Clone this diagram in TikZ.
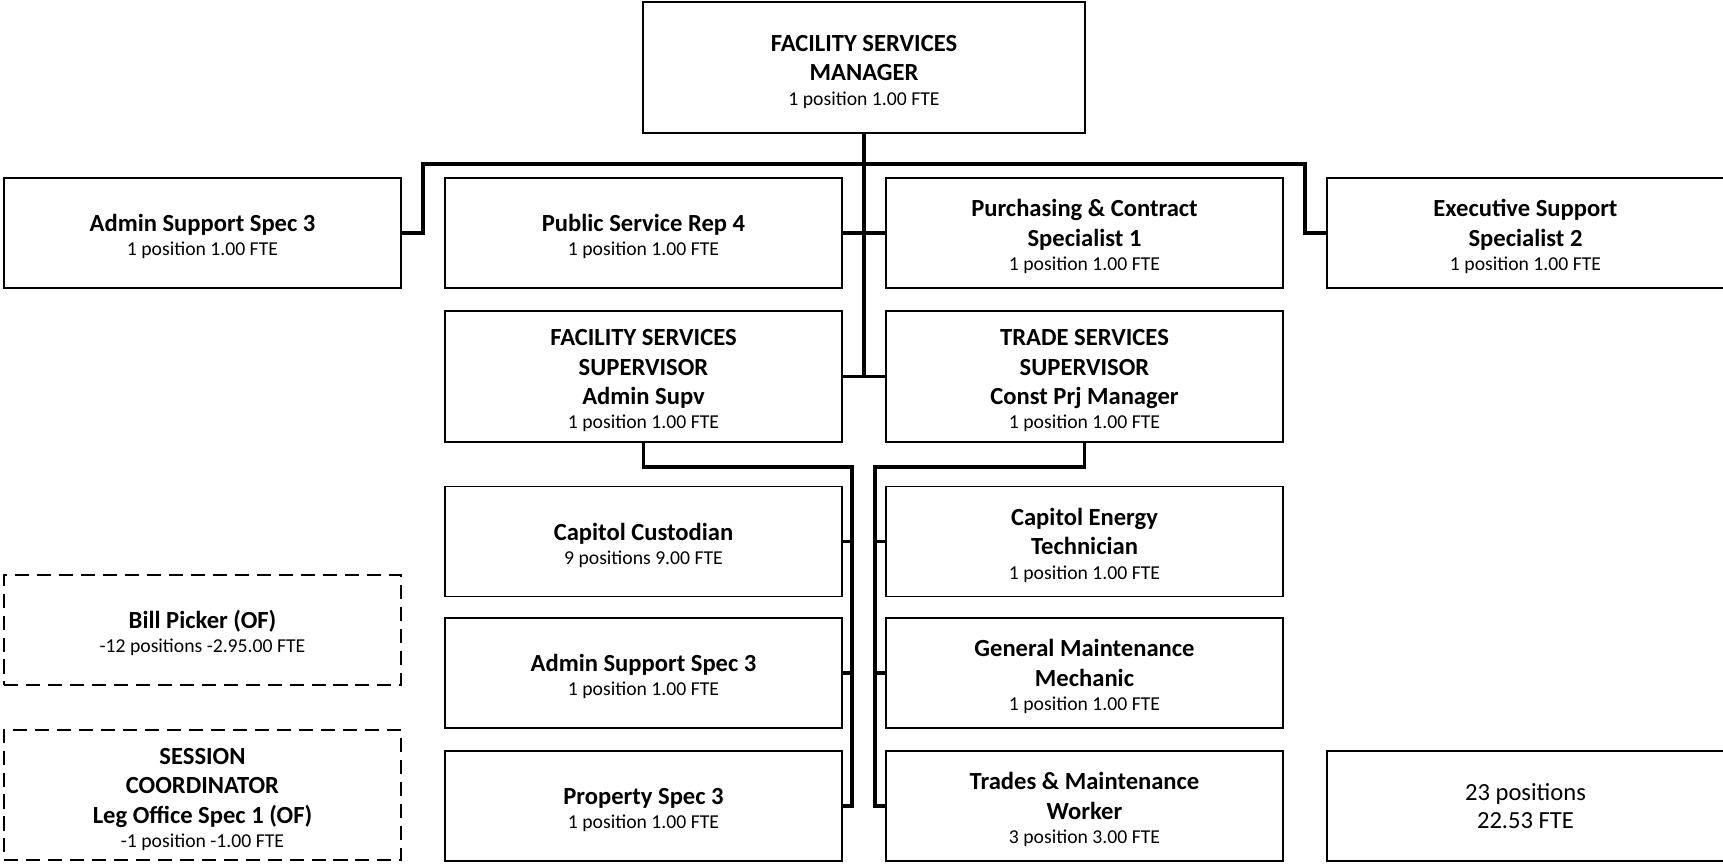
\documentclass[tikz,border=0pt]{standalone}
\usepackage{fontspec}
\setmainfont{Carlito}
\usepackage{tikz}

% box text: bold title lines, then the head count set lighter and smaller
\newcommand{\post}[2]{\rule{0pt}{14pt}#1\\[-3pt]{\fontsize{11.2}{13}\selectfont\mdseries #2}}

\begin{document}
\begin{tikzpicture}[x=0.02cm, y=-0.02cm,
		box/.style={draw, line width=1pt, inner sep=0pt, align=center,
			minimum width=7.94cm, minimum height=2.2cm,
			font=\fontsize{14}{16.8}\selectfont\bfseries},
		tall/.style={minimum height=2.62cm},
		offbox/.style={box, dash pattern=on 8pt off 4.5pt},
		link/.style={line width=2pt}]
		\useasboundingbox (0, 0) rectangle (1723, 863);
		% manager and the people reporting to the manager
		\node[box, tall, minimum width=8.84cm] (mgr) at (864, 67.5) {\post{FACILITY SERVICES\\MANAGER}{1 position 1.00 FTE}};
		\node[box] (ass) at (202.5, 233) {\post{Admin Support Spec 3}{1 position 1.00 FTE}};
		\node[box] (psr) at (643.5, 233) {\post{Public Service Rep 4}{1 position 1.00 FTE}};
		\node[box] (pcs) at (1084.5, 233) {\post{Purchasing \& Contract\\Specialist 1}{1 position 1.00 FTE}};
		\node[box] (ess) at (1525.5, 233) {\post{Executive Support\\Specialist 2}{1 position 1.00 FTE}};
		\node[box, tall] (fss) at (643.5, 376.5) {\post{FACILITY SERVICES\\SUPERVISOR\\Admin Supv}{1 position 1.00 FTE}};
		\node[box, tall] (tss) at (1084.5, 376.5) {\post{TRADE SERVICES\\SUPERVISOR\\Const Prj Manager}{1 position 1.00 FTE}};
		% facility services staff
		\node[box] (cc) at (643.5, 541.5) {\post{Capitol Custodian}{9 positions 9.00 FTE}};
		\node[box] (as3) at (643.5, 673) {\post{Admin Support Spec 3}{1 position 1.00 FTE}};
		\node[box] (ps3) at (643.5, 806) {\post{Property Spec 3}{1 position 1.00 FTE}};
		% trade services staff
		\node[box] (cet) at (1084.5, 541.5) {\post{Capitol Energy\\Technician}{1 position 1.00 FTE}};
		\node[box] (gmm) at (1084.5, 673) {\post{General Maintenance\\Mechanic}{1 position 1.00 FTE}};
		\node[box] (tmw) at (1084.5, 806) {\post{Trades \& Maintenance\\Worker}{3 position 3.00 FTE}};
		% other funds, not linked
		\node[offbox] (bp) at (202.5, 630) {\post{Bill Picker (OF)}{-12 positions -2.95.00 FTE}};
		\node[offbox, minimum height=2.6cm] (sc) at (202.5, 795) {\post{SESSION\\COORDINATOR\\Leg Office Spec 1 (OF)}{-1 position -1.00 FTE}};
		% totals
		\node[box, font=\fontsize{14}{16}\selectfont] (tot) at (1525.5, 806) {23 positions\\22.53 FTE};

		\coordinate (busL) at (423, 164);
		\coordinate (busR) at (1305, 164);
		\coordinate (trunkL) at (852, 467);
		\coordinate (trunkR) at (875, 467);

		\draw[link] (mgr.south) -- (mgr.south |- fss.east);
		\draw[link] (psr.east) -- (pcs.west);
		\draw[link] (fss.east) -- (tss.west);
		\draw[link] (ass.east) -- (ass.east -| busL) -- (busL) -- (busR) -- (busR |- ess.west) -- (ess.west);

		\draw[link] (fss.south) |- (trunkL) -- (trunkL |- ps3.east) -- (ps3.east);
		\draw[link] (cc.east) -- (cc.east -| trunkL);
		\draw[link] (as3.east) -- (as3.east -| trunkL);
		\draw[link] (tss.south) |- (trunkR) -- (trunkR |- tmw.west) -- (tmw.west);
		\draw[link] (cet.west) -- (cet.west -| trunkR);
		\draw[link] (gmm.west) -- (gmm.west -| trunkR);
	\end{tikzpicture}
\end{document}
